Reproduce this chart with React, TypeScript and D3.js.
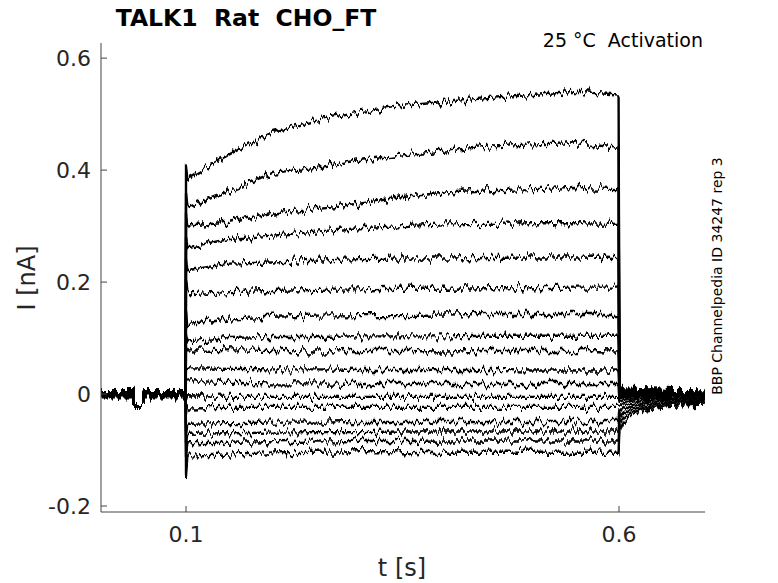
import React from "react";
import * as d3 from "d3";

// ---- data ----
const TITLE = "TALK1  Rat  CHO_FT";
const CONDITION = "25 °C  Activation";
const SOURCE = "BBP Channelpedia ID 34247 rep 3";
const X_LABEL = "t [s]";
const Y_LABEL = "I [nA]";

const X_TICKS = [0.1, 0.6];
const X_TICK_LABELS = ["0.1", "0.6"];
const Y_TICKS = [-0.2, 0, 0.2, 0.4, 0.6];
const Y_TICK_LABELS = ["-0.2", "0", "0.2", "0.4", "0.6"];

// holding-current baseline of each sweep (nA)
const BASELINE = [
  0.005, 0.004, 0.004, 0.003, 0.003, 0.002, 0.002, 0.001, 0.0,
  0.0, -0.001, -0.002, -0.002, -0.003, -0.004, -0.005, -0.006,
];
// short test pulse before the step
const PRE_T = [0.0018, 0.039, 0.0395, 0.0505, 0.051, 0.0995];
const TEST_PULSE_I = -0.018;

// capacitive transient at step onset (t = 0.1 s)
const ONSET_T = 0.1;
const SPIKE = [
  0.41, 0.36, 0.32, 0.28, 0.24, 0.2, 0.15, 0.11, 0.085, 0.05, 0.025,
  -0.012, -0.035, -0.068, -0.09, -0.115, -0.141,
];

// current during the voltage step
const PULSE_T = [0.1015, 0.15, 0.2, 0.25, 0.3, 0.35, 0.4, 0.45, 0.5, 0.55, 0.5995];
const PULSE_I = [
  [0.386, 0.428, 0.468, 0.488, 0.503, 0.515, 0.522, 0.529, 0.534, 0.54, 0.535],
  [0.333, 0.363, 0.395, 0.404, 0.418, 0.428, 0.435, 0.442, 0.446, 0.448, 0.44],
  [0.301, 0.306, 0.322, 0.332, 0.34, 0.352, 0.36, 0.364, 0.366, 0.368, 0.366],
  [0.262, 0.277, 0.283, 0.29, 0.296, 0.3, 0.303, 0.304, 0.305, 0.305, 0.304],
  [0.221, 0.233, 0.235, 0.238, 0.241, 0.242, 0.242, 0.243, 0.244, 0.244, 0.243],
  [0.178, 0.182, 0.184, 0.186, 0.187, 0.188, 0.188, 0.189, 0.189, 0.19, 0.19],
  [0.127, 0.135, 0.138, 0.14, 0.141, 0.141, 0.142, 0.143, 0.143, 0.143, 0.143],
  [0.094, 0.1, 0.102, 0.102, 0.103, 0.103, 0.103, 0.104, 0.104, 0.104, 0.104],
  [0.08, 0.078, 0.077, 0.076, 0.077, 0.077, 0.076, 0.077, 0.077, 0.077, 0.076],
  [0.046, 0.045, 0.044, 0.044, 0.043, 0.043, 0.043, 0.043, 0.042, 0.042, 0.042],
  [0.021, 0.02, 0.019, 0.019, 0.018, 0.018, 0.018, 0.018, 0.018, 0.018, 0.018],
  [-0.004, -0.005, -0.005, -0.005, -0.005, -0.005, -0.005, -0.005, -0.005, -0.005, -0.005],
  [-0.024, -0.023, -0.023, -0.023, -0.023, -0.023, -0.023, -0.023, -0.023, -0.023, -0.023],
  [-0.053, -0.052, -0.051, -0.051, -0.05, -0.05, -0.05, -0.05, -0.05, -0.05, -0.05],
  [-0.071, -0.07, -0.069, -0.068, -0.068, -0.067, -0.067, -0.067, -0.067, -0.067, -0.067],
  [-0.088, -0.087, -0.086, -0.085, -0.084, -0.084, -0.083, -0.083, -0.083, -0.083, -0.083],
  [-0.11, -0.108, -0.106, -0.105, -0.104, -0.104, -0.103, -0.103, -0.103, -0.103, -0.103],
];

// tail currents after the step
const TAIL_T = [0.6005, 0.605, 0.615, 0.63, 0.66, 0.6993];
const TAIL_I = [
  [0.012, 0.01, 0.009, 0.008, 0.007, 0.006],
  [0.012, 0.01, 0.008, 0.008, 0.007, 0.006],
  [0.01, 0.009, 0.008, 0.007, 0.006, 0.005],
  [0.01, 0.008, 0.007, 0.006, 0.006, 0.005],
  [0.008, 0.007, 0.006, 0.006, 0.005, 0.004],
  [0.006, 0.005, 0.005, 0.004, 0.004, 0.004],
  [0.004, 0.004, 0.003, 0.003, 0.003, 0.003],
  [0.002, 0.002, 0.002, 0.002, 0.002, 0.002],
  [0.0, 0.0, 0.001, 0.001, 0.001, 0.001],
  [-0.004, -0.003, -0.002, -0.001, 0.0, 0.0],
  [-0.008, -0.006, -0.004, -0.003, -0.002, -0.001],
  [-0.014, -0.011, -0.008, -0.006, -0.005, -0.004],
  [-0.022, -0.017, -0.012, -0.009, -0.007, -0.006],
  [-0.032, -0.025, -0.018, -0.013, -0.01, -0.009],
  [-0.042, -0.033, -0.024, -0.018, -0.014, -0.012],
  [-0.052, -0.041, -0.03, -0.022, -0.017, -0.015],
  [-0.064, -0.05, -0.036, -0.026, -0.021, -0.019],
];

const X_DOMAIN = [0.0018, 0.6993];
const Y_DOMAIN = [-0.2107, 0.627];

export default function App() {
  const W = 778;
  const H = 583;
  const x = d3.scaleLinear().domain(X_DOMAIN).range([101, 705]);
  const y = d3.scaleLinear().domain(Y_DOMAIN).range([512, 43]);
  const line = d3
    .line<[number, number]>()
    .x((d) => x(d[0]))
    .y((d) => y(d[1]));

  const sweeps: [number, number][][] = PULSE_I.map((pulse, i) => {
    const pts: [number, number][] = [];
    PRE_T.forEach((t, k) => {
      const inTest = k === 2 || k === 3;
      pts.push([t, inTest ? TEST_PULSE_I : BASELINE[i]]);
    });
    pts.push([ONSET_T, SPIKE[i]]);
    PULSE_T.forEach((t, k) => pts.push([t, pulse[k]]));
    TAIL_T.forEach((t, k) => pts.push([t, TAIL_I[i][k]]));
    return pts;
  });

  const font = "DejaVu Sans, sans-serif";
  const axisColor = "#444";
  const textColor = "#262626";
  const [x0, x1] = x.range();
  const [yb, yt] = y.range();

  return (
    <svg
      width={W}
      height={H}
      style={{ position: "absolute", left: 0, top: 0, background: "#fff" }}
      fontFamily={font}
    >
      <defs>
        <filter
          id="jitter"
          filterUnits="userSpaceOnUse"
          x={80}
          y={30}
          width={660}
          height={500}
          colorInterpolationFilters="sRGB"
        >
          <feTurbulence
            type="fractalNoise"
            baseFrequency="0.28 0.03"
            numOctaves={3}
            seed={7}
            result="noise"
          />
          <feColorMatrix
            in="noise"
            type="matrix"
            values="0 0 0 0 0.5  0 1 0 0 0  0 0 0 0 0  0 0 0 0 1"
            result="ymap"
          />
          <feDisplacementMap
            in="SourceGraphic"
            in2="ymap"
            scale={15}
            xChannelSelector="R"
            yChannelSelector="G"
          />
        </filter>
      </defs>
      <rect x={0} y={0} width={W} height={H} fill="#fff" />

      {/* sweeps */}
      <g filter="url(#jitter)">
        {sweeps.map((pts, i) => (
          <path
            key={i}
            d={line(pts) || ""}
            fill="none"
            stroke="#000"
            strokeWidth={2.4}
            strokeLinejoin="round"
          />
        ))}
      </g>

      {/* axes */}
      <line x1={x0} x2={x0} y1={yb} y2={yt} stroke={axisColor} strokeWidth={1} />
      <line x1={x0} x2={x1} y1={yb} y2={yb} stroke={axisColor} strokeWidth={1} />
      {Y_TICKS.map((v, i) => (
        <g key={"yt" + i}>
          <line x1={x0} x2={x0 + 6} y1={y(v)} y2={y(v)} stroke={axisColor} strokeWidth={1} />
          <text x={91} y={y(v) + 8} textAnchor="end" fontSize={22} fill={textColor}>
            {Y_TICK_LABELS[i]}
          </text>
        </g>
      ))}
      {X_TICKS.map((v, i) => (
        <g key={"xt" + i}>
          <line x1={x(v)} x2={x(v)} y1={yb} y2={yb - 6} stroke={axisColor} strokeWidth={1} />
          <text x={x(v)} y={542} textAnchor="middle" fontSize={22} fill={textColor}>
            {X_TICK_LABELS[i]}
          </text>
        </g>
      ))}

      {/* labels */}
      <text x={402} y={576} textAnchor="middle" fontSize={24} fill={textColor}>
        {X_LABEL}
      </text>
      <text
        transform="translate(35,278) rotate(-90)"
        textAnchor="middle"
        fontSize={24}
        fill={textColor}
      >
        {Y_LABEL}
      </text>
      <text
        x={246}
        y={26}
        textAnchor="middle"
        fontSize={23.5}
        fontWeight="bold"
        fill="#000"
        style={{ whiteSpace: "pre" }}
      >
        {TITLE}
      </text>
      <text
        x={703}
        y={47}
        textAnchor="end"
        fontSize={19}
        fill="#000"
        style={{ whiteSpace: "pre" }}
      >
        {CONDITION}
      </text>
      <text
        transform="translate(722,276) rotate(-90)"
        textAnchor="middle"
        fontSize={14}
        fill="#000"
      >
        {SOURCE}
      </text>
    </svg>
  );
}
